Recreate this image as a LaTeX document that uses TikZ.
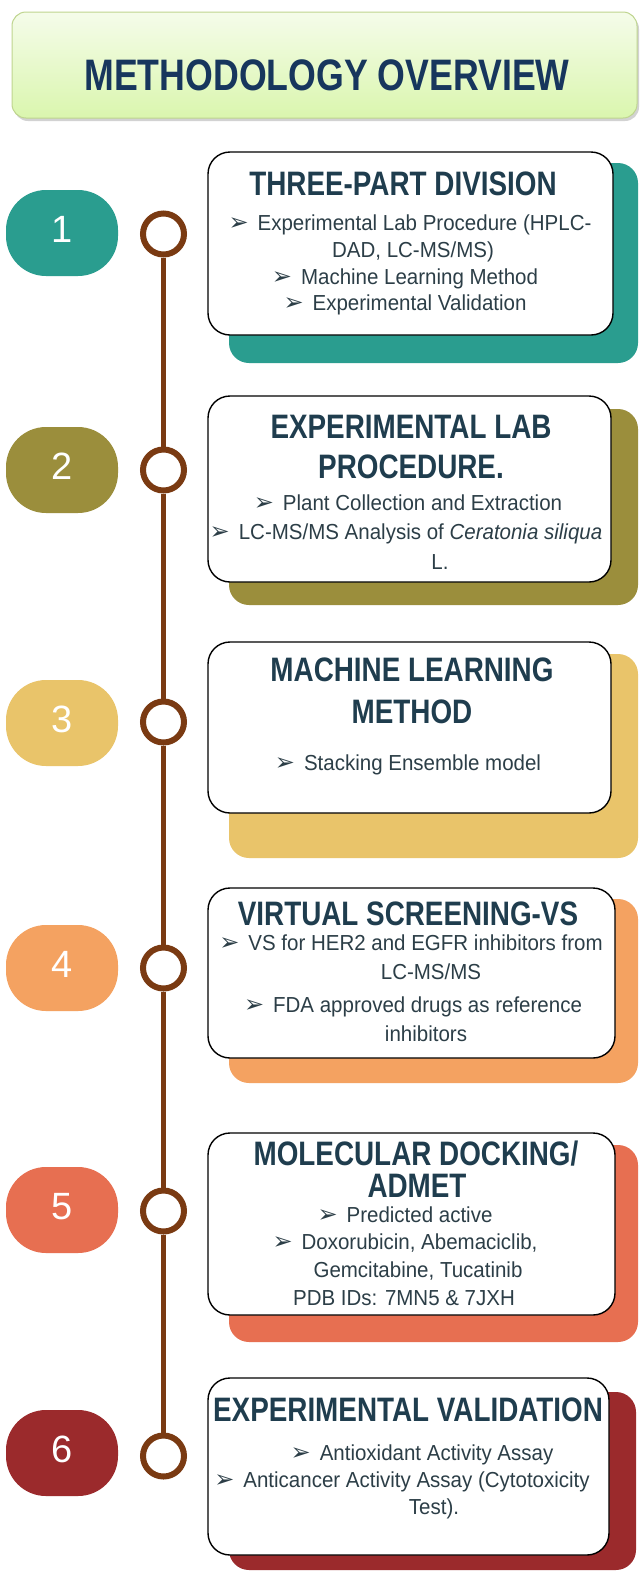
\documentclass[tikz,border=0pt]{standalone}
\usepackage{graphicx}
\usepackage{fontspec}
\setmainfont{Liberation Sans}
\newfontfamily\symfont{DejaVu Sans}
\usetikzlibrary{shadows}
\definecolor{cA}{HTML}{2A9D8F}
\definecolor{cB}{HTML}{9B8E3C}
\definecolor{cC}{HTML}{E9C46A}
\definecolor{cD}{HTML}{F4A261}
\definecolor{cE}{HTML}{E76F51}
\definecolor{cF}{HTML}{9B2A2C}
\definecolor{brn}{HTML}{7A3A12}
\definecolor{ttl}{HTML}{1F3D4E}
\definecolor{bdy}{HTML}{2C3E47}
\definecolor{hdr}{HTML}{17365D}
\definecolor{hdrtop}{HTML}{F5FCEA}
\definecolor{hdrbot}{HTML}{DAF6AE}
\definecolor{hdrline}{HTML}{BFD58F}
\newcommand\bul{{\symfont\fontsize{24}{24}\selectfont\smash{➢}}\hspace{9pt}}
\newcommand\ttlx[1]{\scalebox{0.87}[1.06]{#1}}
\newcommand\bdx[1]{\scalebox{1}[1.06]{#1}}
\begin{document}
\begin{tikzpicture}[x=1pt,y=-1pt,
  backbox/.style={rounded corners=20pt},
  whitebox/.style={fill=white, draw=black, line width=1.4pt, rounded corners=22pt},
  ttlline/.style={anchor=base, text=ttl, font=\fontsize{32}{36}\selectfont\bfseries, inner sep=0pt},
  bodyline/.style={anchor=base, text=bdy, font=\fontsize{20.5}{24}\selectfont, inner sep=0pt},
  pill/.style={rectangle, minimum width=112pt, minimum height=86pt, rounded corners=40pt, inner sep=0pt},
  num/.style={anchor=base, text=white, font=\fontsize{38}{40}\selectfont, inner sep=0pt},
  ring/.style={circle, draw=brn, line width=6pt, fill=white, minimum size=41pt, inner sep=0pt},
  tl/.style={draw=brn, line width=5pt}
]
\useasboundingbox (0,0) rectangle (640,1572);
\fill[white] (0,0) rectangle (640,1572);

% header
\draw[top color=hdrtop, bottom color=hdrbot, draw=hdrline, line width=1pt, rounded corners=14pt,
  drop shadow={shadow xshift=2pt, shadow yshift=-3pt, opacity=0.35, fill=gray}]
  (12,12) rectangle (637,118);
\node[anchor=base, text=hdr, font=\fontsize{42}{46}\selectfont\bfseries, inner sep=0pt] (head) at (327,90)
  {\scalebox{0.85}[1.05]{METHODOLOGY OVERVIEW}};

% coloured back boxes
\fill[backbox, cA] (229,163) rectangle (638,363);
\fill[backbox, cB] (229,409) rectangle (638,605);
\fill[backbox, cC] (229,654) rectangle (638,858);
\fill[backbox, cD] (229,899) rectangle (638,1083);
\fill[backbox, cE] (229,1145) rectangle (638,1342);
\fill[backbox, cF] (229,1392) rectangle (636,1570);

% white boxes
\draw[whitebox] (208,152) rectangle (613,335);
\draw[whitebox] (208,396) rectangle (611,582);
\draw[whitebox] (208,642) rectangle (611,813);
\draw[whitebox] (208,888) rectangle (615,1058);
\draw[whitebox] (208,1133) rectangle (615,1315);
\draw[whitebox] (208,1378) rectangle (609,1555);

% pills and numbers
\node[pill, fill=cA] (p1) at (62,233) {};
\node[pill, fill=cB] (p2) at (62,470) {};
\node[pill, fill=cC] (p3) at (62,723) {};
\node[pill, fill=cD] (p4) at (62,968) {};
\node[pill, fill=cE] (p5) at (62,1210) {};
\node[pill, fill=cF] (p6) at (62,1453) {};
\node[num] (n1) at (62,242.6) {1};
\node[num] (n2) at (62,479.6) {2};
\node[num] (n3) at (62,732.6) {3};
\node[num] (n4) at (62,977.6) {4};
\node[num] (n5) at (62,1219.6) {5};
\node[num] (n6) at (62,1462.6) {6};

% timeline
\node[ring] (r1) at (163.5,234) {};
\node[ring] (r2) at (163.5,470) {};
\node[ring] (r3) at (163.5,722) {};
\node[ring] (r4) at (163.5,968) {};
\node[ring] (r5) at (163.5,1211) {};
\node[ring] (r6) at (163.5,1456) {};
\draw[tl] (r1) -- (r2);
\draw[tl] (r2) -- (r3);
\draw[tl] (r3) -- (r4);
\draw[tl] (r4) -- (r5);
\draw[tl] (r5) -- (r6);

% box 1
\node[ttlline] (t1) at (403,195.5) {\ttlx{THREE-PART DIVISION}};
\node[bodyline] (b1a) at (410,230.3) {\bul\bdx{Experimental Lab Procedure (HPLC-}};
\node[bodyline] (b1b) at (413,257.3) {\bdx{DAD, LC-MS/MS)}};
\node[bodyline] (b1c) at (405,284.3) {\bul\bdx{Machine Learning Method}};
\node[bodyline] (b1d) at (405,310.3) {\bul\bdx{Experimental Validation}};

% box 2
\node[ttlline] (t2a) at (411,438.5) {\ttlx{EXPERIMENTAL LAB}};
\node[ttlline] (t2b) at (411,478.5) {\ttlx{PROCEDURE.}};
\node[bodyline] (b2a) at (408,510.3) {\bul\bdx{Plant Collection and Extraction}};
\node[bodyline] (b2b) at (406,539.3) {\bul\bdx{LC-MS/MS Analysis of \textit{Ceratonia siliqua}}};
\node[bodyline] (b2c) at (440,569.3) {\bdx{L.}};

% box 3
\node[ttlline] (t3a) at (412,681.5) {\ttlx{MACHINE LEARNING}};
\node[ttlline] (t3b) at (412,723.5) {\ttlx{METHOD}};
\node[bodyline] (b3a) at (408,770.3) {\bul\bdx{Stacking Ensemble model}};

% box 4
\node[ttlline] (t4) at (408,925.5) {\ttlx{VIRTUAL SCREENING-VS}};
\node[bodyline] (b4a) at (411,950.3) {\bul\bdx{VS for HER2 and EGFR inhibitors from}};
\node[bodyline] (b4b) at (431,979.3) {\bdx{LC-MS/MS}};
\node[bodyline] (b4c) at (413,1012.3) {\bul\bdx{FDA approved drugs as reference}};
\node[bodyline] (b4d) at (426,1041.3) {\bdx{inhibitors}};

% box 5
\node[ttlline] (t5a) at (416,1165.5) {\ttlx{MOLECULAR DOCKING/}};
\node[ttlline] (t5b) at (417,1197.5) {\ttlx{ADMET}};
\node[bodyline] (b5a) at (405,1222) {\bul\bdx{Predicted active}};
\node[bodyline] (b5b) at (405,1249) {\bul\bdx{Doxorubicin, Abemaciclib,}};
\node[bodyline] (b5c) at (418,1277.3) {\bdx{Gemcitabine, Tucatinib}};
\node[bodyline] (b5d) at (404,1305.3) {\bdx{PDB IDs: 7MN5 \& 7JXH}};

% box 6
\node[ttlline] (t6) at (408,1421.5) {\ttlx{EXPERIMENTAL VALIDATION}};
\node[bodyline] (b6a) at (422,1460.3) {\bul\bdx{Antioxidant Activity Assay}};
\node[bodyline] (b6b) at (402,1487.3) {\bul\bdx{Anticancer Activity Assay (Cytotoxicity}};
\node[bodyline] (b6c) at (434,1514.3) {\bdx{Test).}};
\end{tikzpicture}
\end{document}
